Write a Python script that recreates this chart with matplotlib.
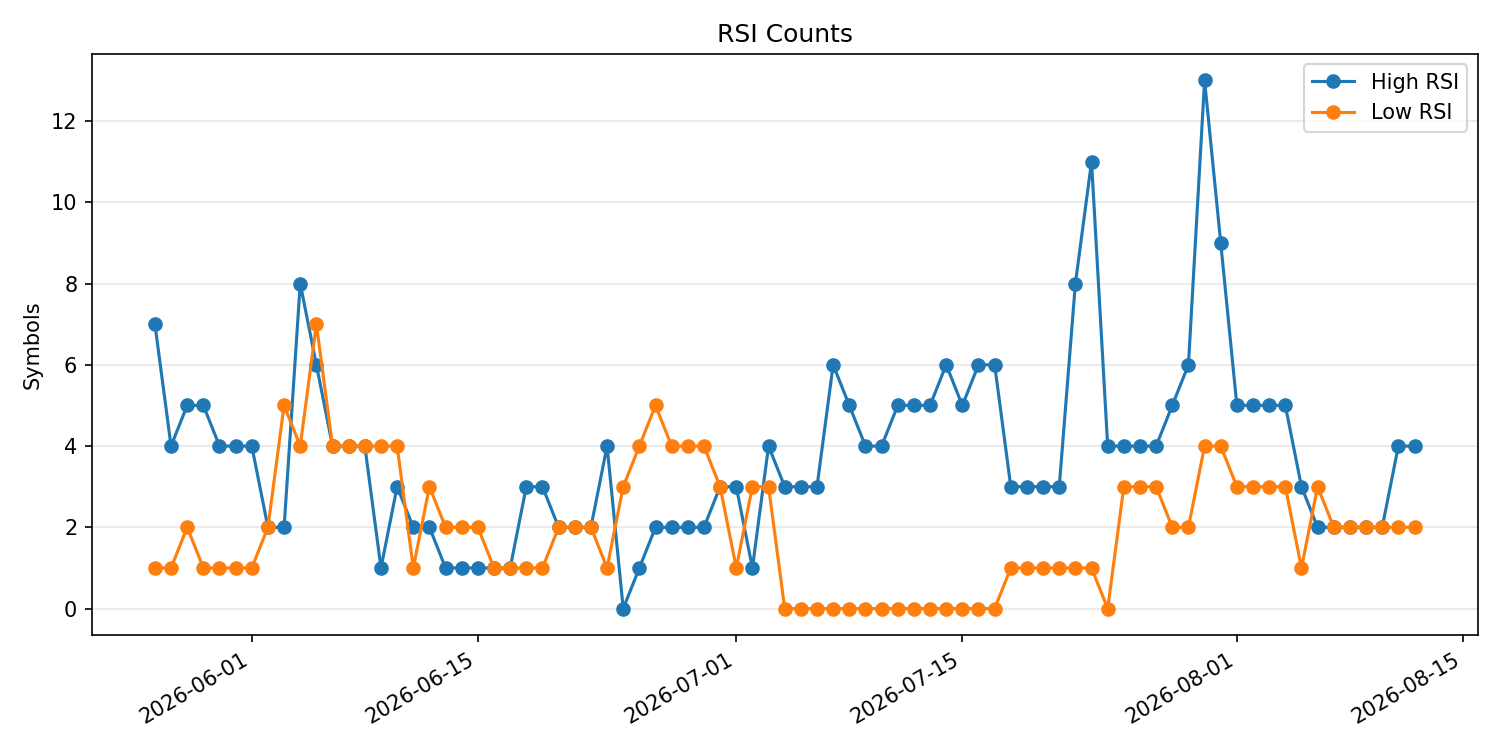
import pandas as pd
import matplotlib.pyplot as plt

# Fechas diarias
dates = pd.date_range("2026-05-26", "2026-08-12", freq="D")

high_rsi = [7, 4, 5, 5, 4, 4, 4, 2, 2, 8,
            6, 4, 4, 4, 1, 3, 2, 2, 1, 1,
            1, 1, 1, 3, 3, 2, 2, 2, 4, 0,
            1, 2, 2, 2, 2, 3, 3, 1, 4, 3,
            3, 3, 6, 5, 4, 4, 5, 5, 5, 6,
            5, 6, 6, 3, 3, 3, 3, 8, 11, 4,
            4, 4, 4, 5, 6, 13, 9, 5, 5, 5,
            5, 3, 2, 2, 2, 2, 2, 4, 4]

low_rsi = [1, 1, 2, 1, 1, 1, 1, 2, 5, 4,
           7, 4, 4, 4, 4, 4, 1, 3, 2, 2,
           2, 1, 1, 1, 1, 2, 2, 2, 1, 3,
           4, 5, 4, 4, 4, 3, 1, 3, 3, 0,
           0, 0, 0, 0, 0, 0, 0, 0, 0, 0,
           0, 0, 0, 1, 1, 1, 1, 1, 1, 0,
           3, 3, 3, 2, 2, 4, 4, 3, 3, 3,
           3, 1, 3, 2, 2, 2, 2, 2, 2]

fig, ax = plt.subplots(figsize=(10, 5), dpi=150)

ax.plot(dates, high_rsi, marker="o", label="High RSI")
ax.plot(dates, low_rsi, marker="o", label="Low RSI")

ax.set_title("RSI Counts")
ax.set_ylabel("Symbols")
ax.grid(axis="y", alpha=0.3)
ax.legend(loc="upper right")

fig.autofmt_xdate()
plt.tight_layout()
plt.savefig("out.png")
